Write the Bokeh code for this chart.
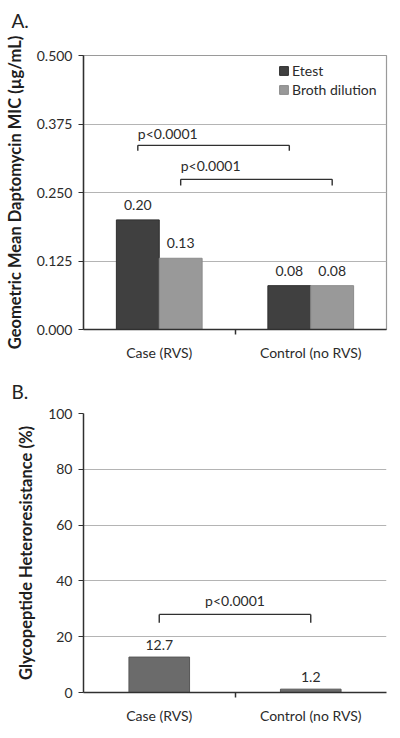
from bokeh.plotting import figure
from bokeh.models import (ColumnDataSource, FactorRange, Range1d, CategoricalAxis,
                          FixedTicker, Legend, LegendItem, Title, NumeralTickFormatter)
from bokeh.transform import dodge
from bokeh.layouts import column
from bokeh.core.properties import value
from bokeh.embed import file_html
from bokeh.resources import INLINE

# ---------------- data ----------------
groups = ["Case (RVS)", "Control (no RVS)"]
etest = [0.20, 0.08]
broth = [0.13, 0.08]
etest_labels = ["0.20", "0.08"]
broth_labels = ["0.13", "0.08"]
a_ticks = [0.0, 0.125, 0.25, 0.375, 0.5]

hetero = [12.7, 1.2]
hetero_labels = ["12.7", "1.2"]
b_ticks = [0, 20, 40, 60, 80, 100]

p_text = "p<0.0001"

FONT = "Lato"
TXT = "#2b2b2b"
GRID = "#b4b4b4"
AXIS = "#303030"
FS = "14px"


def style_axes(p, yticks, fmt=None):
    yax = p.yaxis[0]
    yax.ticker = FixedTicker(ticks=yticks)
    if fmt:
        yax.formatter = NumeralTickFormatter(format=fmt)
    yax.major_label_text_font = FONT
    yax.major_label_text_font_size = FS
    yax.major_label_text_color = TXT
    yax.major_label_standoff = 6
    yax.major_tick_in = 0
    yax.major_tick_out = 5
    yax.minor_tick_line_color = None
    yax.axis_line_color = AXIS
    yax.axis_line_width = 1.5
    yax.major_tick_line_color = AXIS
    yax.axis_label_text_font = FONT
    yax.axis_label_text_font_style = "bold"
    yax.axis_label_text_font_size = "16.5px"
    yax.axis_label_text_color = "#1e1e1e"
    yax.axis_label_standoff = 9
    p.ygrid.ticker = FixedTicker(ticks=yticks)
    p.ygrid.grid_line_color = GRID
    p.xgrid.grid_line_color = None

    # categorical axis: labels only
    cax = p.xaxis[0]
    cax.major_tick_line_color = None
    cax.major_tick_in = 0
    cax.major_tick_out = 0
    cax.axis_line_color = None
    cax.major_label_text_font = FONT
    cax.major_label_text_font_size = FS
    cax.major_label_text_color = TXT
    cax.major_label_standoff = 9

    # edge axis: line + ticks at the category boundaries
    n = len(groups)
    edges = [f"e{i}" for i in range(n + 1)]
    p.extra_x_ranges = {"edges": FactorRange(factors=edges, range_padding=-1.0,
                                             range_padding_units="absolute")}
    eax = CategoricalAxis(x_range_name="edges",
                          major_label_text_font_size="0px", major_label_standoff=0,
                          major_label_text_alpha=0,
                          major_tick_in=0, major_tick_out=5,
                          axis_line_color=AXIS, axis_line_width=1.5,
                          major_tick_line_color=AXIS, major_tick_line_width=1.5)
    p.add_layout(eax, "below")
    p.below = [p.below[-1]] + list(p.below[:-1])


def panel_title(text, standoff):
    return Title(text=text, align="left", offset=-72, standoff=standoff,
                 text_font=FONT, text_font_size="19px", text_font_style="normal",
                 text_color="#222222")


def bracket(p, c0, c1, off0, off1, y_top, y_bot, tx_cat, tx_off, ty, align):
    s_h = ColumnDataSource(dict(x0=[c0], x1=[c1], y0=[y_top], y1=[y_top]))
    p.segment(x0=dodge("x0", off0, range=p.x_range), x1=dodge("x1", off1, range=p.x_range),
              y0="y0", y1="y1", source=s_h, line_color=AXIS, line_width=1.4)
    s_l = ColumnDataSource(dict(x=[c0], y0=[y_top], y1=[y_bot]))
    p.segment(x0=dodge("x", off0, range=p.x_range), x1=dodge("x", off0, range=p.x_range),
              y0="y0", y1="y1", source=s_l, line_color=AXIS, line_width=1.4)
    s_r = ColumnDataSource(dict(x=[c1], y0=[y_top], y1=[y_bot]))
    p.segment(x0=dodge("x", off1, range=p.x_range), x1=dodge("x", off1, range=p.x_range),
              y0="y0", y1="y1", source=s_r, line_color=AXIS, line_width=1.4)
    s_t = ColumnDataSource(dict(x=[tx_cat], y=[ty], t=[p_text]))
    p.text(x=dodge("x", tx_off, range=p.x_range), y="y", text="t", source=s_t,
           text_font=value(FONT), text_font_size=FS, text_color=TXT,
           text_align=align, text_baseline="middle")


# ---------------- panel A ----------------
W = 0.283
pa = figure(x_range=FactorRange(factors=groups), y_range=Range1d(0, 0.5),
            width=392, height=365, output_backend="svg", toolbar_location=None,
            min_border_left=83, min_border_right=5, min_border_top=55, min_border_bottom=36,
            y_axis_label="Geometric Mean Daptomycin MIC (µg/mL)")
# above[0] sits next to the frame: a blank (white) spacer lifts "A." up
a_title = panel_title("A.", 0)
a_spacer = Title(text=" ", standoff=0, text_font=FONT, text_font_size="18px",
                 text_color="#ffffff")
pa.title = None
pa.above = [a_spacer, a_title]
pa.outline_line_color = "#9a9a9a"
pa.outline_line_width = 1.2
style_axes(pa, a_ticks, "0.000")

src_a = ColumnDataSource(dict(g=groups, etest=etest, broth=broth,
                              el=etest_labels, bl=broth_labels))
r_e = pa.vbar(x=dodge("g", -W / 2, range=pa.x_range), top="etest", width=W, source=src_a,
              fill_color="#404040", line_color="#2e2e2e")
r_b = pa.vbar(x=dodge("g", W / 2, range=pa.x_range), top="broth", width=W, source=src_a,
              fill_color="#999999", line_color="#8c8c8c")
pa.text(x=dodge("g", -W / 2, range=pa.x_range), y="etest", text="el", source=src_a,
        text_font=value(FONT), text_font_size=FS, text_color=TXT,
        text_align="center", text_baseline="bottom", y_offset=-10)
pa.text(x=dodge("g", W / 2, range=pa.x_range), y="broth", text="bl", source=src_a,
        text_font=value(FONT), text_font_size=FS, text_color=TXT,
        text_align="center", text_baseline="bottom", y_offset=-10)

bracket(pa, groups[0], groups[1], -W / 2, -W / 2, 0.336, 0.326, groups[0], -W / 2, 0.357, "left")
bracket(pa, groups[0], groups[1], W / 2, W / 2, 0.274, 0.263, groups[0], W / 2, 0.299, "left")

leg = Legend(items=[LegendItem(label="Etest", renderers=[r_e]),
                    LegendItem(label="Broth dilution", renderers=[r_b])],
             location=(195, 231), padding=0, margin=0, spacing=2,
             glyph_width=11, glyph_height=11, label_standoff=3,
             label_text_font=FONT, label_text_font_size=FS, label_text_color=TXT,
             border_line_color=None, background_fill_alpha=0)
pa.add_layout(leg)

# ---------------- panel B ----------------
pb = figure(x_range=FactorRange(factors=groups), y_range=Range1d(0, 100),
            width=392, height=365, output_backend="svg", toolbar_location=None,
            min_border_left=83, min_border_right=6, min_border_top=48, min_border_bottom=38,
            y_axis_label="Glycopeptide Heteroresistance (%)")
pb.title = panel_title("B.", 22)
pb.outline_line_color = None
style_axes(pb, b_ticks)

src_b = ColumnDataSource(dict(g=groups, v=hetero, l=hetero_labels))
pb.vbar(x="g", top="v", width=0.4, source=src_b, fill_color="#6b6b6b", line_color="#575757")
pb.text(x="g", y="v", text="l", source=src_b, text_font=value(FONT), text_font_size=FS,
        text_color=TXT, text_align="center", text_baseline="bottom", y_offset=-7)
bracket(pb, groups[0], groups[1], 0, 0, 28.0, 25.0, groups[0], 0.5, 33.0, "center")

layout = column(pa, pb, spacing=0)
open("out.html", "w").write(file_html(layout, INLINE))
